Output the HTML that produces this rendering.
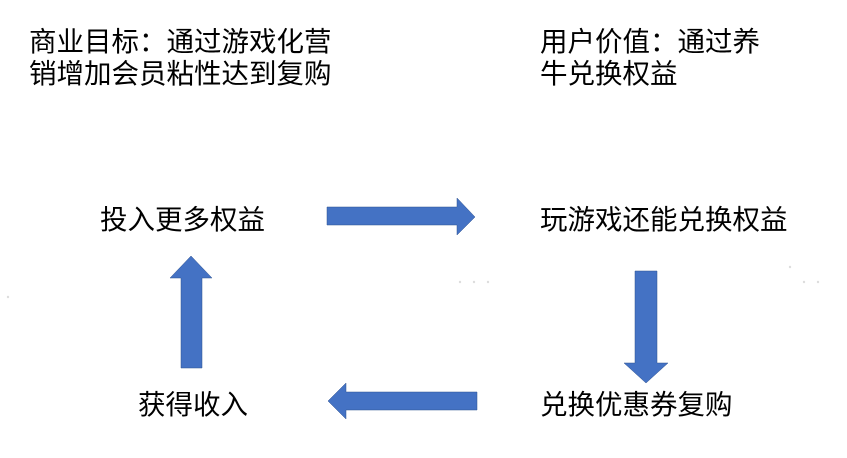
<!DOCTYPE html>
<html><head><meta charset="utf-8"><style>
body{margin:0;width:847px;height:458px;background:#fff;position:relative;overflow:hidden;font-family:"Liberation Sans","Noto Sans CJK SC",sans-serif;color:#000}
.t{position:absolute;font-size:27.5px;line-height:32px;white-space:nowrap}
svg{position:absolute;left:0;top:0}
</style></head><body>
<div class="t" style="left:29px;top:26px">商业目标：通过游戏化营<br>销增加会员粘性达到复购</div>
<div class="t" style="left:540px;top:26px">用户价值：通过养<br>牛兑换权益</div>
<div class="t" style="left:100px;top:204px">投入更多权益</div>
<div class="t" style="left:540px;top:204px">玩游戏还能兑换权益</div>
<div class="t" style="left:138px;top:389px">获得收入</div>
<div class="t" style="left:540px;top:389px">兑换优惠券复购</div>
<svg width="847" height="458">
<g fill="#4472C4" stroke="#2F528F" stroke-width="0.5">
<polygon points="327,207 457,207 457,198 475,217 457,235 457,225 327,225"/>
<polygon points="635,271 657,271 657,363 668,363 646,383 624,363 635,363"/>
<polygon points="477,392 346,392 346,383 328,401 346,419 346,410 477,410"/>
<polygon points="181,368 202,368 202,278 212,278 191,256 170,278 181,278"/>
</g>
<g fill="#ddd"><circle cx="460" cy="282" r="1.2"/><circle cx="474" cy="282" r="1.2"/><circle cx="488" cy="282" r="1.2"/><circle cx="790" cy="267" r="1.2"/><circle cx="804" cy="282" r="1.2"/><circle cx="818" cy="282" r="1.2"/><circle cx="8" cy="297" r="1.2"/></g>
</svg>
</body></html>
